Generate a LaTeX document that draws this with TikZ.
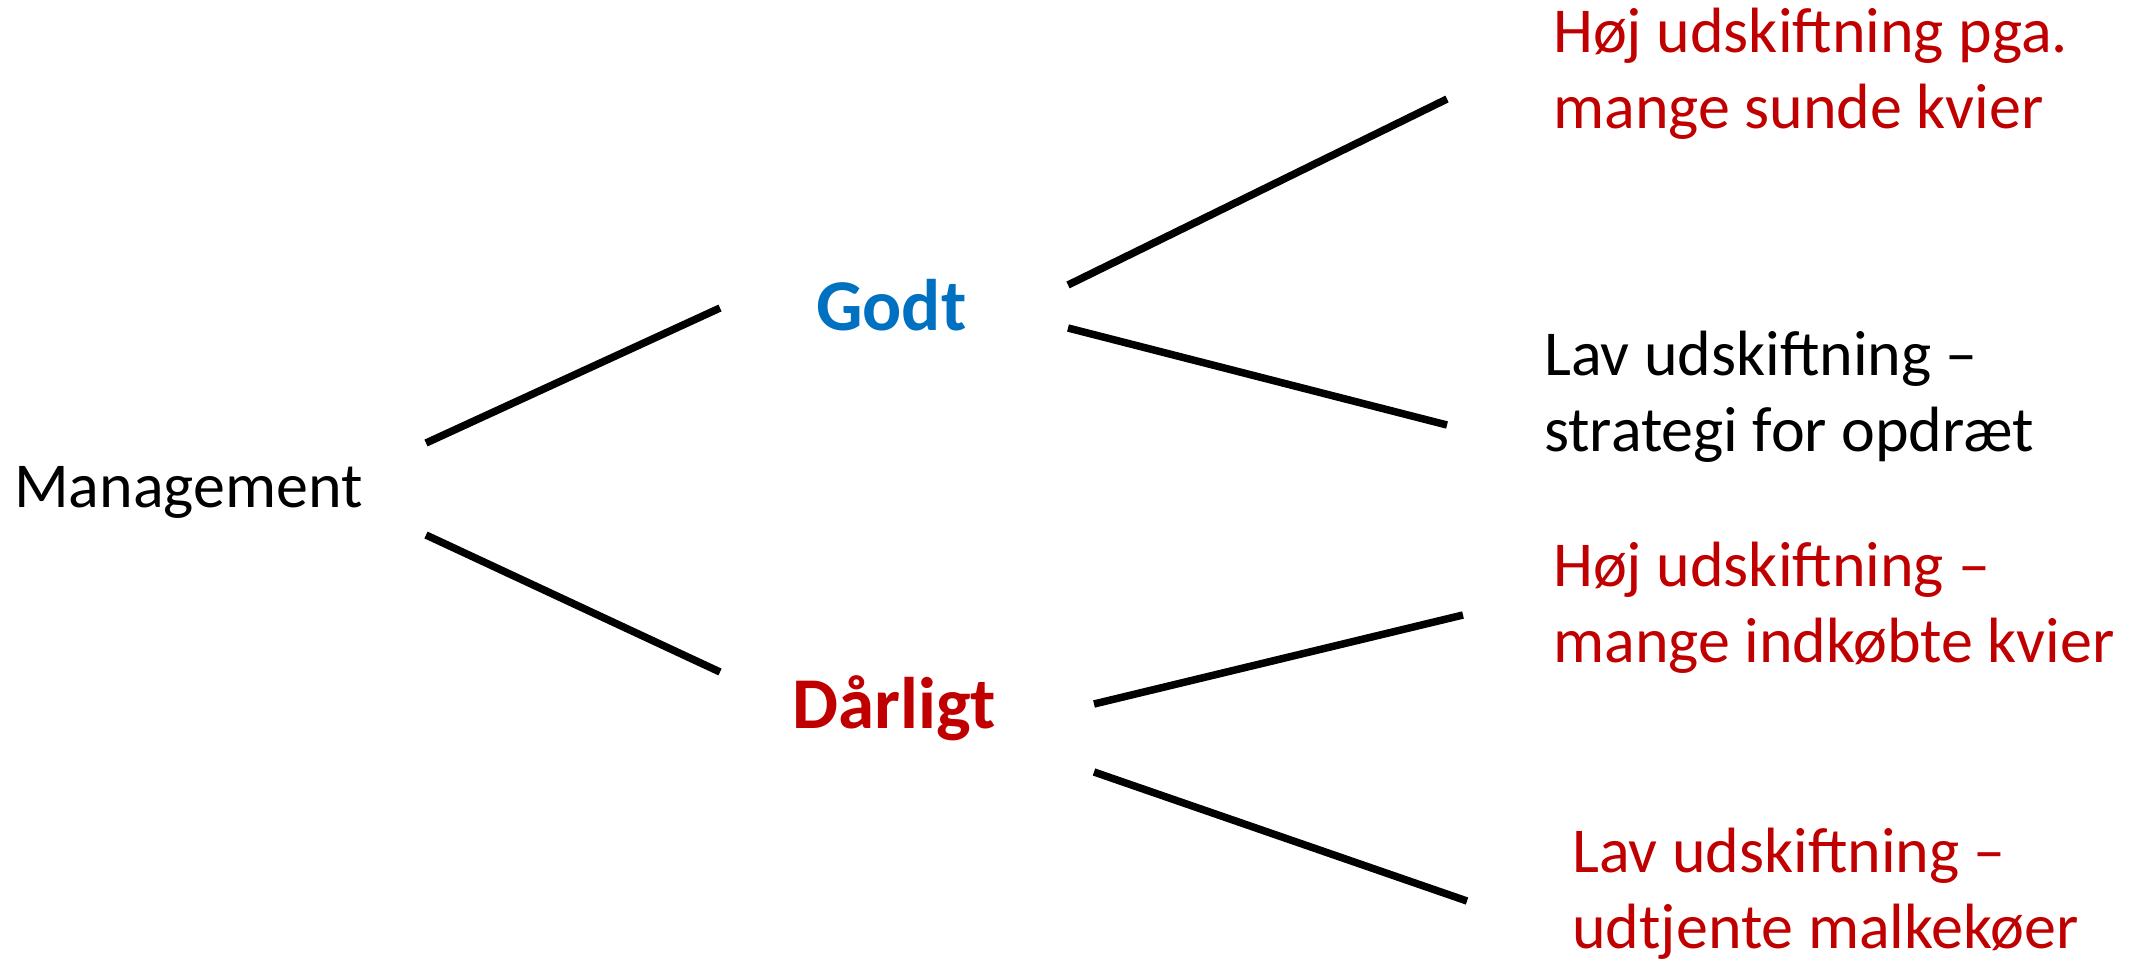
\documentclass[tikz,border=0pt]{standalone}
\usepackage{fontspec}
\setmainfont{Carlito}
\definecolor{tblue}{RGB}{0,112,192}
\definecolor{tred}{RGB}{192,0,0}
\begin{document}
\begin{tikzpicture}[x=1pt,y=-1pt,
  branch/.style={line width=7.5pt,black},
  leaf/.style={anchor=base west,inner sep=0pt,align=left,font=\fontsize{64}{76}\selectfont},
  mid/.style={anchor=base west,inner sep=0pt,font=\fontsize{73}{86}\selectfont\bfseries}]
\useasboundingbox (0,0) rectangle (2131,963);
\node[leaf] (man) at (14,507) {Management};
\node[mid,text=tblue] (godt) at (816,330) {Godt};
\node[mid,text=tred] (darl) at (792,728) {Dårligt};
\node[leaf,text=tred] (t1) at (1553,129) {Høj udskiftning pga.\\mange sunde kvier};
\node[leaf] (t2) at (1544,451) {Lav udskiftning –\\strategi for opdræt};
\node[leaf,text=tred] (t3) at (1553,662) {Høj udskiftning –\\mange indkøbte kvier};
\node[leaf,text=tred] (t4) at (1572,948) {Lav udskiftning –\\udtjente malkekøer};
\coordinate (m1) at (426,443);
\coordinate (m2) at (426,535);
\coordinate (g1) at (720,308);
\coordinate (d1) at (720,672);
\coordinate (g2) at (1068,285);
\coordinate (g3) at (1068,328);
\coordinate (d2) at (1094,704);
\coordinate (d3) at (1094,772);
\coordinate (e1) at (1447,99);
\coordinate (e2) at (1447,425);
\coordinate (e3) at (1463,615);
\coordinate (e4) at (1467,901);
\draw[branch] (m1) -- (g1);
\draw[branch] (m2) -- (d1);
\draw[branch] (g2) -- (e1);
\draw[branch] (g3) -- (e2);
\draw[branch] (d2) -- (e3);
\draw[branch] (d3) -- (e4);
\end{tikzpicture}
\end{document}
